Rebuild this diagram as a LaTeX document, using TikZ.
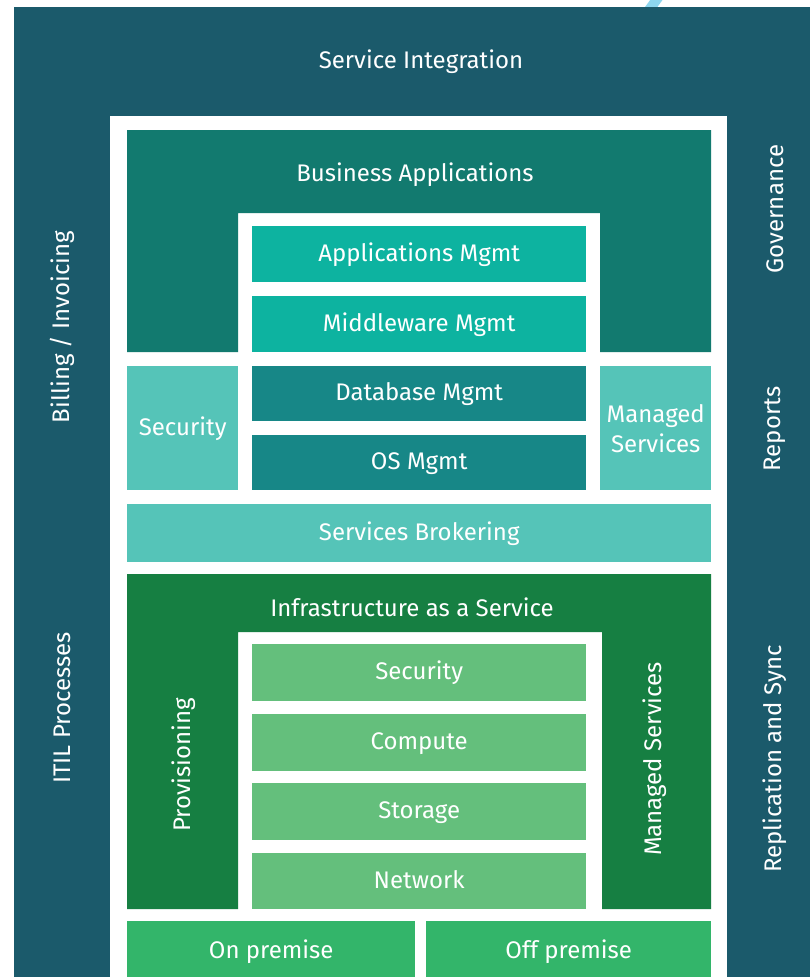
\documentclass[tikz,border=0pt]{standalone}
\usepackage{fontspec}
\setmainfont{Fira Sans}
\definecolor{darkbg}{HTML}{1B5A6B}
\definecolor{bizapp}{HTML}{127A6F}
\definecolor{mgmtA}{HTML}{0DB3A0}
\definecolor{mgmtB}{HTML}{178787}
\definecolor{lightteal}{HTML}{55C4B8}
\definecolor{iaas}{HTML}{167F42}
\definecolor{greenin}{HTML}{64BF7C}
\definecolor{premise}{HTML}{33B56A}
\definecolor{skyblue}{HTML}{8DD6EE}
\begin{document}
\begin{tikzpicture}[x=1pt,y=-1pt,
  lbl/.style={text=white, font=\fontsize{24}{30}\selectfont, inner sep=0pt, align=center},
  boxbase/.style={lbl, draw=none, anchor=north west},
  box/.style={boxbase, text height=1.38em, text depth=0em}]
\useasboundingbox (0,0) rectangle (810,977);
\fill[white] (0,0) rectangle (810,977);
\begin{scope}
\clip (0,0) rectangle (810,977);
\draw[skyblue, line width=10pt] (665,-12) -- (636,28);
\end{scope}
% outer dark frame and white inner frame
\fill[darkbg] (14,7) rectangle (810,977);
\fill[white] (110,116) rectangle (727,977);
% side labels
\node[lbl] (si) at (421,62) {Service Integration};
\node[lbl, rotate=90] (bill) at (62,327) {Billing / Invoicing};
\node[lbl, rotate=90] (itil) at (62,708) {ITIL Processes};
\node[lbl, rotate=90] (gov) at (775,209) {Governance};
\node[lbl, rotate=90] (rep) at (775,429) {Reports};
\node[lbl, rotate=90] (repl) at (775,759) {Replication and Sync};
% Business applications (L shape)
\fill[bizapp] (127,130) -- (711,130) -- (711,352) -- (600,352) -- (600,213) -- (238,213) -- (238,352) -- (127,352) -- cycle;
\node[lbl] (ba) at (415,175) {Business Applications};
\node[box, fill=mgmtA, minimum width=334pt, minimum height=56pt] (am) at (252,226) {Applications Mgmt};
\node[box, fill=mgmtA, minimum width=334pt, minimum height=56pt] (mm) at (252,296) {Middleware Mgmt};
\node[box, fill=mgmtB, minimum width=334pt, minimum height=55pt] (db) at (252,366) {Database Mgmt};
\node[box, fill=mgmtB, minimum width=334pt, minimum height=55pt] (os) at (252,435) {OS Mgmt};
\node[box, fill=lightteal, minimum width=111pt, minimum height=124pt] (sec) at (127,366) {Security};
\node[boxbase, fill=lightteal, minimum width=111pt, minimum height=124pt] (ms) at (600,366) {Managed\\Services};
\node[box, fill=lightteal, minimum width=584pt, minimum height=58pt] (sb) at (127,504) {Services Brokering};
% IaaS (L shape)
\fill[iaas] (127,574) -- (711,574) -- (711,909) -- (602,909) -- (602,632) -- (238,632) -- (238,909) -- (127,909) -- cycle;
\node[lbl] (ia) at (412,607) {Infrastructure as a Service};
\node[lbl, rotate=90] (prov) at (184,765) {Provisioning};
\node[lbl, rotate=90] (ms2) at (655,759) {Managed Services};
\node[box, fill=greenin, minimum width=334pt, minimum height=57pt] (gsec) at (252,644) {Security};
\node[box, fill=greenin, minimum width=334pt, minimum height=57pt] (comp) at (252,714) {Compute};
\node[box, fill=greenin, minimum width=334pt, minimum height=57pt] (stor) at (252,783) {Storage};
\node[box, fill=greenin, minimum width=334pt, minimum height=56pt] (net) at (252,853) {Network};
\node[box, fill=premise, minimum width=288pt, minimum height=60pt] (onp) at (127,921) {On premise};
\node[box, fill=premise, minimum width=285pt, minimum height=60pt] (offp) at (426,921) {Off premise};
\end{tikzpicture}
\end{document}
